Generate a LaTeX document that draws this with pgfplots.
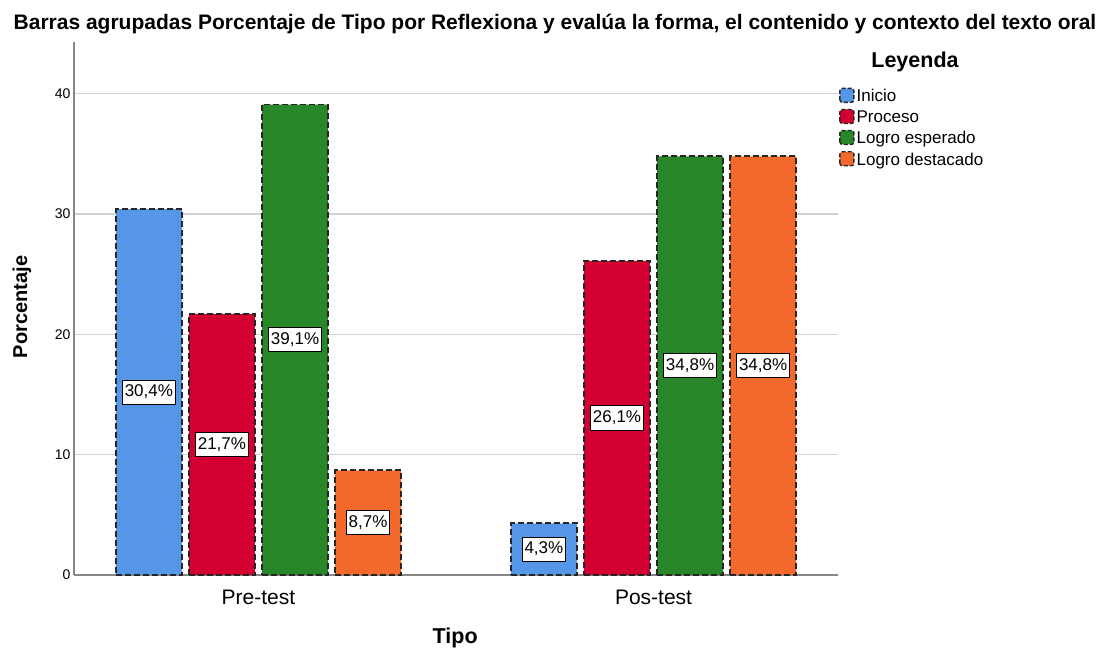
\documentclass[border=0pt]{standalone}
\usepackage{pgfplots}
\pgfplotsset{compat=1.18}
\usepackage{pgfplotstable}
\usepackage{fontspec}
\setmainfont{Liberation Sans}
\definecolor{cIni}{RGB}{85,150,230}
\definecolor{cPro}{RGB}{213,0,50}
\definecolor{cLes}{RGB}{40,135,40}
\definecolor{cLde}{RGB}{243,105,44}
\definecolor{gridc}{RGB}{210,210,210}
\definecolor{axc}{RGB}{135,135,135}
\pgfplotstableread{
x v
0 30.4
1 4.3
}\inicio
\pgfplotstableread{
x v
0 21.7
1 26.1
}\proceso
\pgfplotstableread{
x v
0 39.1
1 34.8
}\esperado
\pgfplotstableread{
x v
0 8.7
1 34.8
}\destacado
\begin{document}
\begin{tikzpicture}
\useasboundingbox (0pt,0pt) rectangle (1111pt,648pt);
\node[font=\bfseries\fontsize{21}{23}\selectfont, anchor=center] at (555pt,624pt) {Barras agrupadas Porcentaje de Tipo por Reflexiona y evalúa la forma, el contenido y contexto del texto oral};
\node[font=\bfseries\fontsize{21.5}{23}\selectfont] at (915pt,586pt) {Leyenda};
\begin{axis}[
  at={(74pt,73pt)}, anchor=south west,
  scale only axis, width=764pt, height=533pt,
  xmin=-0.467, xmax=1.467, ymin=0, ymax=44.3,
  axis lines*=left,
  axis line style={axc, line width=1.3pt},
  xtick={0,1}, xticklabels={Pre-test,Pos-test},
  ytick={0,10,20,30,40},
  major tick length=0pt,
  ymajorgrids, grid style={gridc, line width=1.3pt},
  tick label style={font=\fontsize{14}{16}\selectfont},
  xticklabel style={font=\fontsize{21}{23}\selectfont, anchor=center, yshift=-22pt},
  /pgf/number format/assume math mode=true,
  xlabel={\textbf{Tipo}}, ylabel={\textbf{Porcentaje}},
  xlabel style={font=\fontsize{21.5}{23}\selectfont, at={(axis description cs:0.499,-0.118)}, anchor=center},
  ylabel style={font=\fontsize{20}{22}\selectfont, at={(axis description cs:-0.068,0.503)}, anchor=center},
  ybar, bar width=0.167,
  every axis plot/.append style={draw=black!85, line width=1.8pt, dash pattern=on 6pt off 3pt},
  legend style={at={(1.0,0.917)}, anchor=north west, draw=none, fill=none,
    font=\fontsize{17}{19}\selectfont, row sep=3.5pt, inner sep=1pt,
    cells={anchor=west}},
  legend image code/.code={\draw[#1, line width=1.4pt, dash pattern=on 4pt off 2pt, rounded corners=2.5pt] (0pt,-6pt) rectangle (14pt,8pt);},
  legend cell align=left,
  clip=false,
]
\addplot[fill=cIni, bar shift=-0.2775] table[x=x,y=v]{\inicio};
\addplot[fill=cPro, bar shift=-0.0925] table[x=x,y=v]{\proceso};
\addplot[fill=cLes, bar shift=0.0925] table[x=x,y=v]{\esperado};
\addplot[fill=cLde, bar shift=0.2775] table[x=x,y=v]{\destacado};
\legend{Inicio,Proceso,Logro esperado,Logro destacado}
\pgfplotsset{every axis plot/.append style={
  point meta=explicit,
  nodes near coords={\pgfmathprintnumber[fixed,fixed zerofill,precision=1,use comma]{\pgfplotspointmeta}\%},
  every node near coord/.append style={anchor=center, fill=white, draw=black, solid, line width=1pt, inner xsep=2.5pt, inner ysep=5pt, font=\fontsize{17}{19}\selectfont},
}}
\addplot[draw=none, fill=none, bar shift=-0.2775, forget plot] table[x=x,y expr=\thisrow{v}/2,meta=v]{\inicio};
\addplot[draw=none, fill=none, bar shift=-0.0925, forget plot] table[x=x,y expr=\thisrow{v}/2,meta=v]{\proceso};
\addplot[draw=none, fill=none, bar shift=0.0925, forget plot] table[x=x,y expr=\thisrow{v}/2,meta=v]{\esperado};
\addplot[draw=none, fill=none, bar shift=0.2775, forget plot] table[x=x,y expr=\thisrow{v}/2,meta=v]{\destacado};
\end{axis}
\end{tikzpicture}
\end{document}
